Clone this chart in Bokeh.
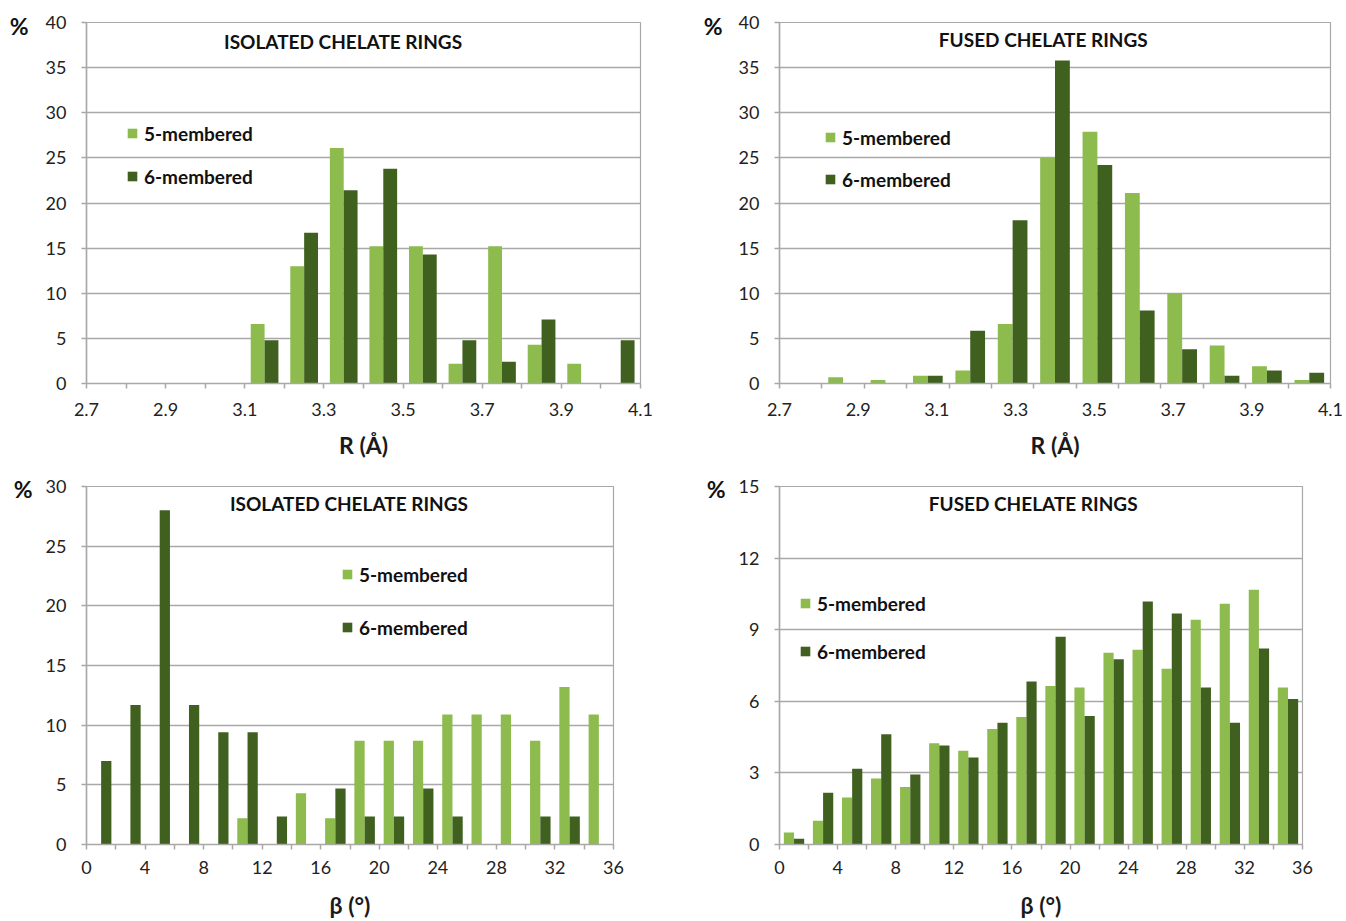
from bokeh.plotting import figure
from bokeh.layouts import column, row
from bokeh.models import (FixedTicker, Label, Legend, LegendItem, Range1d,
                          NumeralTickFormatter, LinearAxis)
from bokeh.embed import file_html
from bokeh.resources import INLINE

# ---------------- data ----------------
r_tick_labels = [2.7, 2.9, 3.1, 3.3, 3.5, 3.7, 3.9, 4.1]
beta_tick_labels = [0, 4, 8, 12, 16, 20, 24, 28, 32, 36]
y_ticks_r = [0, 5, 10, 15, 20, 25, 30, 35, 40]
y_ticks_iso_beta = [0, 5, 10, 15, 20, 25, 30]
y_ticks_fused_beta = [0, 3, 6, 9, 12, 15]

series_names = ["5-membered", "6-membered"]

# isolated chelate rings, R (14 bins of 0.1 A from 2.7 to 4.1)
iso_r_5 = [0, 0, 0, 0, 6.6, 13.0, 26.1, 15.2, 15.2, 2.2, 15.2, 4.3, 2.2, 0]
iso_r_6 = [0, 0, 0, 0, 4.8, 16.7, 21.4, 23.8, 14.3, 4.8, 2.4, 7.1, 0, 4.8]

# fused chelate rings, R (13 bins across the axis)
fused_r_5 = [0, 0.7, 0.4, 0.85, 1.45, 6.6, 25.0, 27.9, 21.1, 10.0, 4.2, 1.9, 0.4]
fused_r_6 = [0, 0, 0, 0.85, 5.85, 18.1, 35.8, 24.2, 8.1, 3.8, 0.85, 1.45, 1.2]

# isolated chelate rings, beta (18 bins of 2 deg)
iso_b_5 = [0, 0, 0, 0, 0, 2.2, 0, 4.3, 2.2, 8.7, 8.7, 8.7, 10.9, 10.9, 10.9, 8.7, 13.2, 10.9]
iso_b_6 = [7.0, 11.7, 28.0, 11.7, 9.4, 9.4, 2.35, 0, 4.7, 2.35, 2.35, 4.7, 2.35, 0, 0, 2.35, 2.35, 0]

# fused chelate rings, beta (18 bins of 2 deg)
fused_b_5 = [0.5, 1.0, 1.97, 2.77, 2.41, 4.24, 3.93, 4.84, 5.34, 6.64, 6.58, 8.03, 8.16, 7.36, 9.42, 10.09, 10.67, 6.58]
fused_b_6 = [0.24, 2.17, 3.17, 4.62, 2.93, 4.15, 3.65, 5.1, 6.83, 8.7, 5.38, 7.76, 10.18, 9.68, 6.58, 5.1, 8.21, 6.1]

LIGHT = "#8DBB4E"
DARK = "#406020"
GRID = "#A8A8A8"
FONT = "Lato"
TXT = "#222222"


def panel(title, xlabel, xticks, fmt, v5, v6, yticks, width, height,
          bl, br, bt, bb, title_x, title_dy, pct_dy, pct_standoff,
          leg_xy, leg_spacing, label_standoff_x, axis_title_standoff):
    x0, x1 = xticks[0], xticks[-1]
    n = len(v5)
    bw = (x1 - x0) / n
    centers = [x0 + (i + 0.5) * bw for i in range(n)]
    frame_h = height - bt - bb
    p = figure(width=width, height=height, title=None,
               x_range=Range1d(x0, x1), y_range=Range1d(yticks[0], yticks[-1]),
               output_backend="svg", toolbar_location=None,
               min_border_left=bl, min_border_right=br,
               min_border_top=bt, min_border_bottom=bb)
    p.background_fill_color = "white"
    p.border_fill_color = "white"
    p.outline_line_color = GRID
    p.outline_line_width = 1.2

    r5 = p.vbar(x=[c - 0.175 * bw for c in centers], top=v5, width=0.35 * bw,
                fill_color=LIGHT, line_color=None)
    r6 = p.vbar(x=[c + 0.175 * bw for c in centers], top=v6, width=0.35 * bw,
                fill_color=DARK, line_color=None)

    p.xgrid.grid_line_color = None
    p.ygrid.grid_line_color = GRID
    p.ygrid.grid_line_width = 1.5
    p.ygrid.ticker = FixedTicker(ticks=yticks)

    xa = p.xaxis[0]
    xa.ticker = FixedTicker(ticks=xticks, minor_ticks=[x0 + i * bw for i in range(n + 1)])
    xa.formatter = NumeralTickFormatter(format=fmt)
    xa.axis_line_color = GRID
    xa.axis_line_width = 1.5
    xa.major_tick_out = 0
    xa.major_tick_in = 0
    xa.minor_tick_out = 5
    xa.minor_tick_in = 0
    xa.minor_tick_line_color = GRID
    xa.minor_tick_line_width = 1.5
    xa.major_label_text_font = FONT
    xa.major_label_text_font_size = "18px"
    xa.major_label_text_color = TXT
    xa.major_label_standoff = label_standoff_x
    xa.axis_label = xlabel
    xa.axis_label_text_font = FONT
    xa.axis_label_text_font_size = "23px"
    xa.axis_label_text_font_style = "bold"
    xa.axis_label_text_color = "#1a1a1a"
    xa.axis_label_standoff = axis_title_standoff

    ya = p.yaxis[0]
    ya.ticker = FixedTicker(ticks=yticks)
    ya.axis_line_color = GRID
    ya.axis_line_width = 1.5
    ya.major_tick_out = 5
    ya.major_tick_in = 0
    ya.major_tick_line_color = GRID
    ya.major_tick_line_width = 1.5
    ya.minor_tick_line_color = None
    ya.major_label_text_font = FONT
    ya.major_label_text_font_size = "18px"
    ya.major_label_text_color = TXT
    ya.major_label_standoff = 15

    # "%" unit shown as a second, bare axis on the left
    p.extra_y_ranges = {"pct": Range1d(0, frame_h)}
    pa = LinearAxis(y_range_name="pct", ticker=FixedTicker(ticks=[frame_h - pct_dy]),
                    major_label_overrides={frame_h - pct_dy: "%"})
    pa.axis_line_color = None
    pa.major_tick_line_color = None
    pa.minor_tick_line_color = None
    pa.major_tick_out = 0
    pa.major_label_text_font = FONT
    pa.major_label_text_font_size = "23px"
    pa.major_label_text_font_style = "bold"
    pa.major_label_text_color = "#111111"
    pa.major_label_standoff = pct_standoff
    p.add_layout(pa, "left")

    p.add_layout(Label(x=title_x, y=yticks[-1], y_offset=-title_dy, text=title,
                       text_align="center", text_baseline="middle",
                       text_font=FONT, text_font_size="19px", text_font_style="bold",
                       text_color="#111111"))

    legend = Legend(items=[LegendItem(label=series_names[0], renderers=[r5]),
                           LegendItem(label=series_names[1], renderers=[r6])],
                    location=leg_xy, spacing=leg_spacing, padding=0, margin=0,
                    glyph_width=12, glyph_height=12, label_height=24, label_standoff=6,
                    label_text_font=FONT, label_text_font_size="19px",
                    label_text_font_style="bold", label_text_color="#111111",
                    border_line_color=None, background_fill_alpha=0)
    p.add_layout(legend)
    return p


p1 = panel("ISOLATED  CHELATE  RINGS", "R (Å)", r_tick_labels, "0.0", iso_r_5, iso_r_6, y_ticks_r,
           680, 466, 86, 40, 22, 83, 3.36, 19, 3, 14, (40, 195), 19, 14, 12)
p2 = panel("FUSED CHELATE  RINGS", "R (Å)", r_tick_labels, "0.0", fused_r_5, fused_r_6, y_ticks_r,
           666, 466, 99, 16, 22, 83, 3.376, 17, 3, 13, (45, 192), 18, 14, 12)
p3 = panel("ISOLATED  CHELATE  RINGS", "β (°)", beta_tick_labels, "0", iso_b_5, iso_b_6, y_ticks_iso_beta,
           680, 455, 86, 67, 20, 74, 18.24, 17, 3, 10, (255, 205), 29, 11, 14)
p4 = panel("FUSED CHELATE  RINGS", "β (°)", beta_tick_labels, "0", fused_b_5, fused_b_6, y_ticks_fused_beta,
           666, 455, 99, 44, 20, 74, 17.62, 17, 3, 10, (20, 181), 24, 11, 14)

layout = column(row(p1, p2, spacing=0), row(p3, p4, spacing=0), spacing=0)
open("out.html", "w").write(file_html(layout, INLINE))
